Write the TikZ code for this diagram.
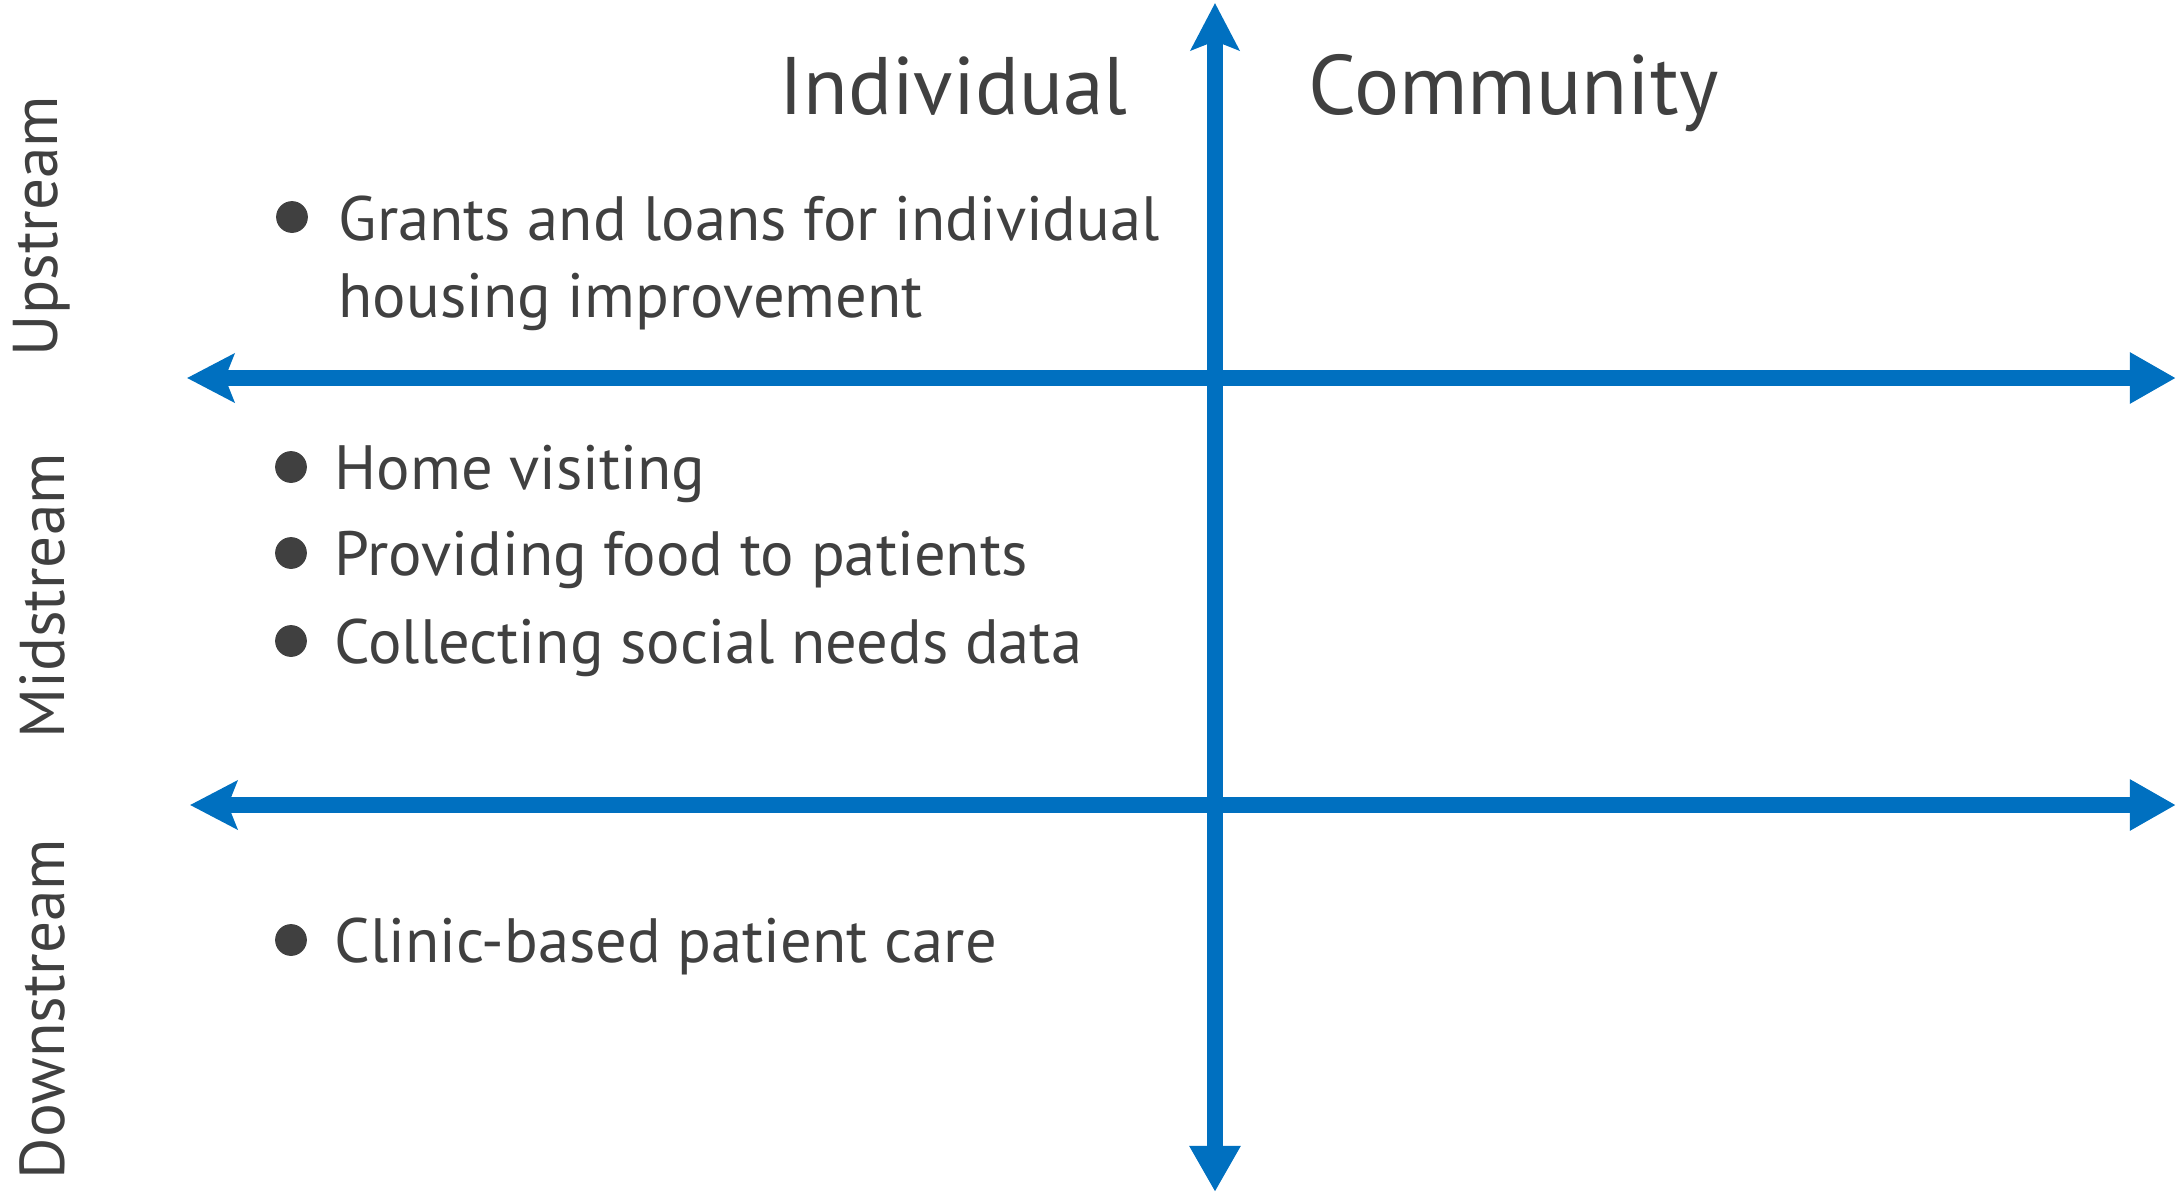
\documentclass[tikz,border=0pt]{standalone}
\usepackage{fontspec}
\setmainfont{PT Sans}
\usetikzlibrary{arrows.meta}
\definecolor{axisblue}{HTML}{0070C0}
\definecolor{textgray}{HTML}{404040}

\begin{document}
\begin{tikzpicture}[x=0.01cm,y=-0.01cm,
    axis/.style={line width=4.5pt,color=axisblue,
      {Stealth[length=4.7mm,width=4.8mm,inset=0.9mm]}-{Triangle[length=4.6mm,width=4.8mm]}},
    head/.style={font=\fontsize{24}{28}\selectfont,text=textgray,anchor=base west,inner sep=0pt},
    item/.style={font=\fontsize{17.8}{22}\selectfont,text=textgray,anchor=base west,inner sep=0pt},
    side/.style={font=\fontsize{18}{22}\selectfont,text=textgray,rotate=90,inner sep=0pt},
    dot/.style={circle,fill=textgray,draw=black!75,line width=0.5pt,minimum size=3mm,inner sep=0pt}]
      \useasboundingbox (0,0) rectangle (2177,1196);
      \coordinate (top) at (1215,3);
      \coordinate (bottom) at (1215,1192);
      \coordinate (upL) at (187,378);
      \coordinate (upR) at (2176,378);
      \coordinate (downL) at (190,805);
      \coordinate (downR) at (2176,805);
      \draw[axis] (top) -- (bottom);
      \draw[axis] (upL) -- (upR);
      \draw[axis] (downL) -- (downR);
      \node[head,anchor=base east,font=\fontsize{23.2}{28}\selectfont] (individual) at (1128,114) {Individual};
      \node[head] (community) at (1308,114) {Community};
      \node[side] (upstream) at (42,226) {Upstream};
      \node[side] (midstream) at (42,596) {Midstream};
      \node[side] (downstream) at (42,1009) {Downstream};
      \node[dot] (dot0) at (292,217) {};
      \node[item] (grants) at (338,240) {Grants and loans for individual};
      \node[item] (grantsb) at (338,317) {housing improvement};
      \foreach \y/\txt [count=\i] in {467/Home visiting,553/Providing food to patients,
          641/Collecting social needs data,940/Clinic-based patient care} {
        \node[dot] (dot\i) at (291,\y) {};
        \node[item] (item\i) at (334,\y+22) {\txt};
      }
    \end{tikzpicture}
\end{document}
